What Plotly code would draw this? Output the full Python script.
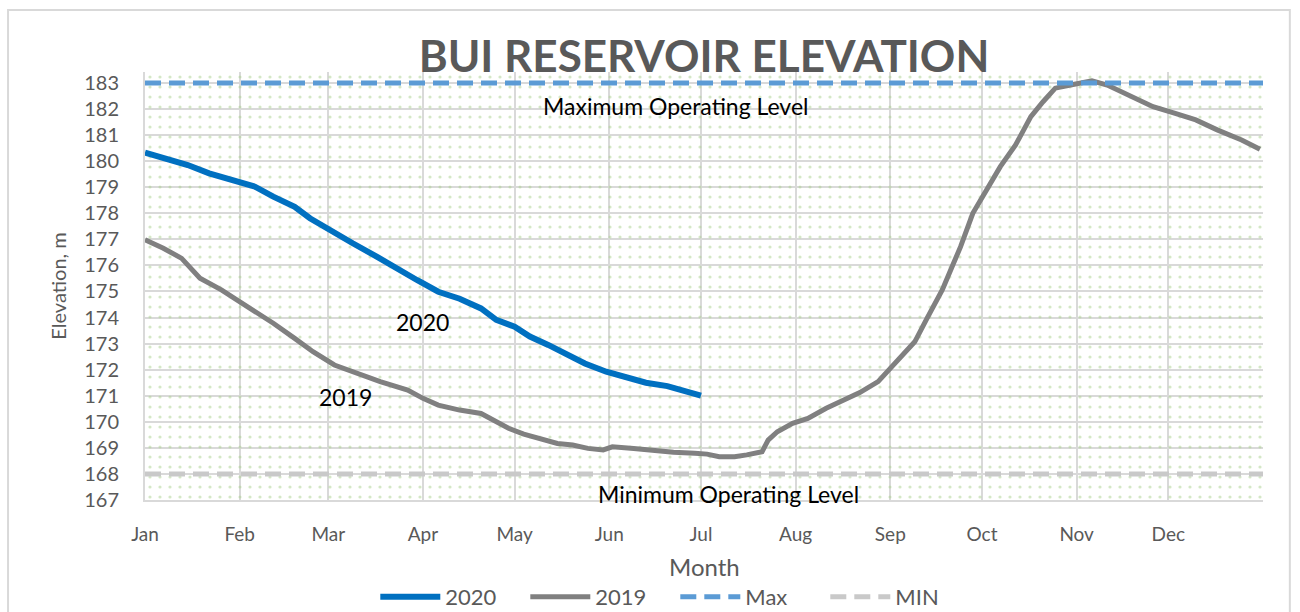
import pandas as pd
import plotly.graph_objects as go

# day of year (2020 axis, leap year) and reservoir elevation, m
days_2020 = [0, 6, 14, 21, 28, 36, 42, 49, 54, 61, 68, 76, 83, 89, 96, 103,
             110, 115, 121, 126, 132, 137, 144, 151, 158, 164, 171, 176, 182]
elev_2020 = [180.33, 180.11, 179.85, 179.53, 179.28, 179.02, 178.64, 178.25,
             177.81, 177.36, 176.85, 176.33, 175.82, 175.44, 174.99, 174.72,
             174.35, 173.91, 173.65, 173.27, 172.95, 172.63, 172.24, 171.92,
             171.67, 171.50, 171.37, 171.18, 171.00]

days_2019 = [0, 6, 12, 18, 25, 31, 37, 42, 49, 55, 62, 69, 77, 86, 91, 96,
             103, 110, 114, 119, 124, 129, 135, 140, 145, 150, 153, 160, 167,
             173, 180, 184, 188, 193, 197, 202, 204, 207, 212, 217, 223, 229,
             234, 240, 244, 247, 252, 256, 261, 264, 267, 271, 276, 280, 285,
             290, 294, 298, 303, 310, 315, 323, 326, 330, 337, 344, 351, 359, 365]
elev_2019 = [176.98, 176.66, 176.27, 175.51, 175.06, 174.61, 174.16, 173.78,
             173.20, 172.69, 172.18, 171.86, 171.54, 171.22, 170.90, 170.64,
             170.45, 170.32, 170.07, 169.75, 169.53, 169.37, 169.17, 169.11,
             168.98, 168.92, 169.04, 168.98, 168.89, 168.83, 168.79, 168.76,
             168.66, 168.66, 168.73, 168.85, 169.30, 169.62, 169.94, 170.13,
             170.52, 170.84, 171.12, 171.54, 172.05, 172.44, 173.07, 173.97,
             175.06, 175.89, 176.72, 178.00, 178.96, 179.79, 180.62, 181.71,
             182.28, 182.80, 182.92, 183.08, 182.92, 182.45, 182.32, 182.09,
             181.84, 181.58, 181.20, 180.81, 180.46]

max_level = 183
min_level = 168

month_start = [0, 31, 60, 91, 121, 152, 182, 213, 244, 274, 305, 335]
month_names = ['Jan', 'Feb', 'Mar', 'Apr', 'May', 'Jun', 'Jul', 'Aug', 'Sep',
               'Oct', 'Nov', 'Dec']

x_range = [0, 366]
y_range = [167, 183.42]

font = 'Lato'
grey_txt = '#595959'
grid = '#D9D9D9'

fig = go.Figure()

# dotted background fill of the plot area
fig.add_trace(go.Scatter(
    x=[x_range[0], x_range[1], x_range[1], x_range[0], x_range[0]],
    y=[y_range[0], y_range[0], y_range[1], y_range[1], y_range[0]],
    fill='toself', mode='none', fillcolor='rgba(0,0,0,0)',
    fillpattern=dict(shape='.', fgcolor='#A9D18E', bgcolor='rgba(0,0,0,0)',
                     fgopacity=0.5, size=10, solidity=0.08),
    showlegend=False, hoverinfo='skip'))

fig.add_trace(go.Scatter(x=days_2020, y=elev_2020, mode='lines', name='2020',
                         line=dict(color='#0070C0', width=6)))
fig.add_trace(go.Scatter(x=days_2019, y=elev_2019, mode='lines', name='2019',
                         line=dict(color='#808080', width=5)))
fig.add_trace(go.Scatter(x=x_range, y=[max_level, max_level], mode='lines', name='Max',
                         line=dict(color='#5B9BD5', width=5, dash='16px,8px')))
fig.add_trace(go.Scatter(x=x_range, y=[min_level, min_level], mode='lines', name='MIN',
                         line=dict(color='#C9C9C9', width=5, dash='16px,8px')))

ann_font = dict(family=font, size=23, color='black')
fig.add_annotation(x=173.7, y=182.12, text='Maximum Operating Level', showarrow=False, font=ann_font)
fig.add_annotation(x=191, y=167.23, text='Minimum Operating Level', showarrow=False, font=ann_font)
fig.add_annotation(x=91, y=173.83, text='2020', showarrow=False, font=ann_font)
fig.add_annotation(x=65.5, y=170.95, text='2019', showarrow=False, font=ann_font)

# x axis title placed as text below the month labels
fig.add_annotation(x=0.5, y=-0.1565, xref='paper', yref='paper', text='Month',
                   showarrow=False, yanchor='middle',
                   font=dict(family=font, size=24, color=grey_txt))

# outer chart border
fig.add_shape(type='rect', xref='paper', yref='paper',
              x0=-0.1225, x1=1.024, y0=-0.3, y1=1.145,
              line=dict(color=grid, width=2))

fig.update_layout(
    width=1300, height=612,
    margin=dict(l=145, r=37, t=72, b=112, autoexpand=False),
    paper_bgcolor='white', plot_bgcolor='white',
    font=dict(family=font, color=grey_txt),
    title=dict(text='<b>BUI RESERVOIR ELEVATION</b>', x=0.5, xref='paper',
               y=0.908, yanchor='middle', xanchor='center',
               font=dict(family=font, size=44, color=grey_txt)),
    legend=dict(orientation='h', x=0.206, xanchor='left',
                yref='container', y=0.0245, yanchor='middle',
                entrywidth=75, entrywidthmode='pixels',
                font=dict(family=font, size=22, color=grey_txt), itemwidth=60),
)
fig.update_xaxes(range=x_range, tickvals=month_start, ticktext=month_names,
                 showgrid=True, gridcolor=grid, gridwidth=2,
                 showline=True, linecolor=grid, linewidth=2,
                 ticks='outside', ticklen=16, tickcolor='rgba(0,0,0,0)',
                 tickfont=dict(size=19, color=grey_txt), automargin=False,
                 zeroline=False)
fig.update_yaxes(range=y_range, tickvals=list(range(167, 184)),
                 showgrid=True, gridcolor=grid, gridwidth=2,
                 showline=True, linecolor=grid, linewidth=2,
                 ticks='outside', ticklen=20, tickcolor='rgba(0,0,0,0)',
                 tickfont=dict(size=20, color=grey_txt), automargin=False,
                 title=dict(text='Elevation, m', font=dict(size=20, color=grey_txt), standoff=12),
                 zeroline=False)

fig.write_html('out.html', config={'displayModeBar': False},
               post_script="document.body.style.margin='0';")
